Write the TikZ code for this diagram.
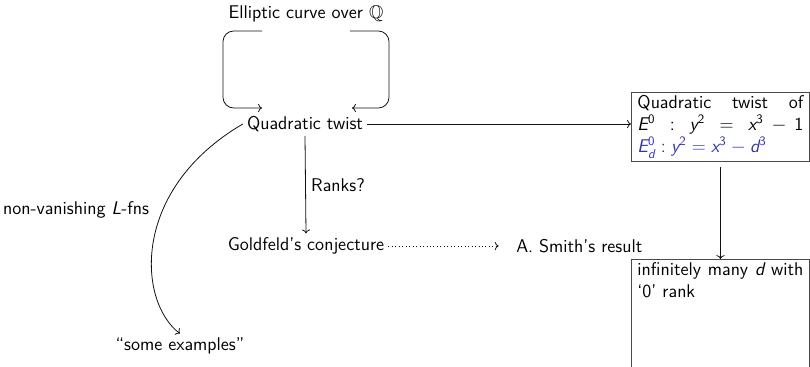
\documentclass[tikz,border=0pt]{standalone}
\usepackage{amsmath,amssymb}
\usepackage{xcolor}
\renewcommand{\familydefault}{\sfdefault}
\SetSymbolFont{operators}{normal}{TU}{lmss}{m}{n}
\SetSymbolFont{letters}{normal}{TU}{lmss}{m}{it}
\usepackage{tikz}
\usetikzlibrary{
  arrows.meta,
  positioning,
  calc
}
\tikzset{
  base/.style={
    inner sep=3pt, font=\fontsize{13.8}{16.5}\selectfont
  },
  box nd/.style={
    base, draw=boxStroke, line width=0.7pt, anchor=north west,
    inner xsep=4.5pt, inner ysep=2.5pt,
    text width=124.5pt, align=justify
  },
  arr/.style={->, line width=0.6pt, draw=lineStroke},
  albl/.style={base}
}
\definecolor{boxStroke}{HTML}{4A4A4A}
\definecolor{lineStroke}{HTML}{111111}
\definecolor{structBlue}{rgb}{0.2,0.2,0.7}

\begin{document}
\begin{tikzpicture}[x=0.75pt,y=0.75pt]
    \useasboundingbox (0,0) rectangle (810,-367);

    \node[base] (ell) at (306,-14) {Elliptic curve over $\mathbb{Q}$};
    \node[base] (qt) at (305,-124) {Quadratic twist};
    \node[base] (gold) at (306,-246) {Goldfeld's conjecture};
    \node[base, anchor=west] (smith) at (512,-246) {A. Smith's result};
    \node[base] (ex) at (180,-346) {``some examples''};

    \node[box nd] (twist) at (631,-92)
      {Quadratic twist of\linebreak $E^0 : y^2 = x^3 - 1$\linebreak
       \textcolor{structBlue}{$E^0_d : y^2 = x^3 - d^3$}};
    \node[box nd] (many) at (631,-259)
      {infinitely many $d$ with `0' rank\par\rule{0pt}{60pt}};

    \coordinate (loopL) at (262,-31);
    \coordinate (loopR) at (350,-31);
    \draw[arr, rounded corners=8pt] (loopL) -| ++(-39,-77) -- ++(39,0);
    \draw[arr, rounded corners=8pt] (loopR) -| ++(39,-77) -- ++(-37,0);

    \draw[arr] (qt.east) -- (qt.east -| twist.west);
    \draw[arr] (qt.south) -- node[albl, right=1pt, pos=0.5]{Ranks?}
      (gold.north);
    \draw[arr, dotted, shorten >=10pt] (gold.east) -- (smith.west);
    \draw[arr, shorten <=4pt] (twist.south) -- (many.north);
    \draw[arr] (qt.west) .. controls (130,-190) and (138,-302)
      .. (ex.north);
    \node[albl] (nvl) at (76,-210) {non-vanishing $L$-fns};

  \end{tikzpicture}
\end{document}
